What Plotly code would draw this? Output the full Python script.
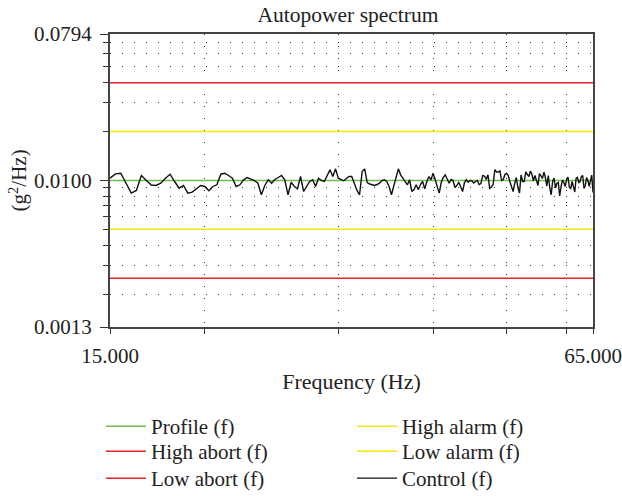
import numpy as np
import plotly.graph_objects as go

# ---------------- data ----------------
freq_min, freq_max = 15.0, 65.0
# spectral lines every 0.25 Hz (201 bins)
freq = np.linspace(freq_min, freq_max, 201)

control = [
    0.01033, 0.01099, 0.01108, 0.00958, 0.00836, 0.00869, 0.01073, 0.01000, 0.00938, 0.00932,
    0.00962, 0.01033, 0.01093, 0.00986, 0.00897, 0.00932, 0.00836, 0.00848, 0.00893, 0.00932,
    0.00919, 0.00865, 0.00919, 0.00941, 0.01093, 0.01108, 0.01073, 0.01033, 0.00919, 0.00941,
    0.01010, 0.01043, 0.01021, 0.01000, 0.00962, 0.00817, 0.00932, 0.01010, 0.00962, 0.01014,
    0.01043, 0.01073, 0.01010, 0.00817, 0.00976, 0.00919, 0.00889, 0.01058, 0.00856, 0.00919,
    0.00986, 0.01010, 0.00919, 0.01033, 0.01000, 0.00986, 0.01073, 0.01163, 0.01058, 0.01179,
    0.01033, 0.01014, 0.00996, 0.01029, 0.01058, 0.01058, 0.00945, 0.00869, 0.00817, 0.01135,
    0.01179, 0.00972, 0.00952, 0.00941, 0.00932, 0.00945, 0.00962, 0.01000, 0.01010, 0.00986,
    0.00919, 0.00817, 0.00932, 0.01073, 0.01179, 0.01084, 0.01029, 0.00986, 0.00941, 0.01010,
    0.00856, 0.00881, 0.00941, 0.00877, 0.00945, 0.00986, 0.00889, 0.00986, 0.01058, 0.01010,
    0.01108, 0.01014, 0.00906, 0.00836, 0.00972, 0.01043, 0.01084, 0.01029, 0.00962, 0.01014,
    0.01000, 0.00906, 0.00932, 0.00976, 0.00906, 0.00856, 0.00972, 0.01010, 0.00976, 0.01000,
    0.00996, 0.00965, 0.00986, 0.01000, 0.00945, 0.00958, 0.01073, 0.01065, 0.01014, 0.01084,
    0.00897, 0.00912, 0.00945, 0.01168, 0.01127, 0.01127, 0.01146, 0.01000, 0.01014, 0.01088,
    0.01108, 0.01073, 0.00986, 0.00912, 0.00856, 0.00958, 0.01043, 0.00906, 0.00836, 0.01084,
    0.00986, 0.00986, 0.01131, 0.01088, 0.01058, 0.01143, 0.01088, 0.00996, 0.01073, 0.01000,
    0.00932, 0.01104, 0.01073, 0.01029, 0.01127, 0.01043, 0.00925, 0.01073, 0.00906, 0.00817,
    0.00986, 0.01036, 0.00900, 0.00958, 0.00972, 0.00804, 0.00919, 0.01007, 0.00972, 0.00919,
    0.01014, 0.01051, 0.00906, 0.00893, 0.00986, 0.00906, 0.00850, 0.01029, 0.01043, 0.00972,
    0.00986, 0.01058, 0.01073, 0.00893, 0.00932, 0.01043, 0.01000, 0.00919, 0.01029, 0.01080,
    0.00845,
]

profile_level = 0.0100
high_abort_level = 0.0398
low_abort_level = 0.00251
high_alarm_level = 0.0200
low_alarm_level = 0.00501

x_tick_vals = [15, 20, 30, 40, 50, 60, 65]
x_tick_text = ["15.000", "", "", "", "", "", "65.000"]
y_tick_vals = [0.001259, 0.0100, 0.07943]
y_tick_text = ["0.0013", "0.0100", "0.0794"]
y_minor_vals = [0.002, 0.003, 0.004, 0.005, 0.006, 0.007, 0.008, 0.009,
                0.02, 0.03, 0.04, 0.05, 0.06, 0.07]

# ---------------- styling ----------------
FONT = "Liberation Serif"
GREEN = "#6cbf4a"
RED = "#e8232b"
YELLOW = "#f2ea00"
BLACK = "#111111"
W, H = 622, 496
ML, MR, MT, MB = 110, 29, 34, 169
plot_w = W - ML - MR

fig = go.Figure()

# legend slots: (left px, row-centre px)
col1, col2 = 101, 352
row_y = [428, 453, 480]

def hline(name, level, color, legend):
    fig.add_trace(go.Scatter(
        x=[freq_min, freq_max], y=[level, level], mode="lines", name=name,
        line=dict(color=color, width=1.5), legend=legend, hoverinfo="skip"))

hline("Profile (f)", profile_level, GREEN, "legend")
hline("High abort (f)", high_abort_level, RED, "legend2")
hline("Low abort (f)", low_abort_level, RED, "legend3")
hline("High alarm (f)", high_alarm_level, YELLOW, "legend4")
hline("Low alarm (f)", low_alarm_level, YELLOW, "legend5")
fig.add_trace(go.Scatter(x=freq, y=control, mode="lines", name="Control (f)",
                         line=dict(color=BLACK, width=1.4), legend="legend6"))

grid_dash = "1px,11px"
legend_font = dict(family=FONT, size=21, color="#222")

def legend_at(left_px, centre_px):
    return dict(orientation="v", xref="container", yref="container",
                x=left_px / W, y=1 - (centre_px - 22) / H,
                xanchor="left", yanchor="top",
                itemwidth=40, font=legend_font, bgcolor="rgba(0,0,0,0)",
                borderwidth=0, tracegroupgap=0)

fig.update_layout(
    width=W, height=H,
    margin=dict(l=ML, r=MR, t=MT, b=MB, autoexpand=False),
    paper_bgcolor="white", plot_bgcolor="white",
    font=dict(family=FONT, size=21, color="#222"),
    title=dict(text="Autopower spectrum", x=348 / W, xanchor="center",
               y=0.970, yanchor="middle", yref="container",
               font=dict(family=FONT, size=21.5, color="#222")),
    showlegend=True,
    legend=legend_at(col1, row_y[0]),
    legend2=legend_at(col1, row_y[1]),
    legend3=legend_at(col1, row_y[2]),
    legend4=legend_at(col2, row_y[0]),
    legend5=legend_at(col2, row_y[1]),
    legend6=legend_at(col2, row_y[2]),
    xaxis=dict(
        type="log", range=[np.log10(freq_min), np.log10(freq_max)],
        tickmode="array", tickvals=x_tick_vals, ticktext=x_tick_text,
        ticks="outside", ticklen=5, tickwidth=1, tickcolor="#333",
        ticklabelstandoff=4, automargin=True,
        showgrid=True, gridcolor="#333", gridwidth=1, griddash=grid_dash,
        showline=True, linecolor="#444", linewidth=2, mirror=True,
        zeroline=False,
        title=dict(text="Frequency (Hz)", standoff=6,
                   font=dict(family=FONT, size=22, color="#222")),
    ),
    yaxis=dict(
        type="log", range=[-2.9, -1.1],
        tickmode="array", tickvals=y_tick_vals, ticktext=y_tick_text,
        ticks="outside", ticklen=8, tickwidth=1, tickcolor="#333",
        ticklabelstandoff=4, automargin=False,
        showgrid=True, gridcolor="#333", gridwidth=1, griddash=grid_dash,
        minor=dict(tickmode="array", tickvals=y_minor_vals, ticks="outside",
                   ticklen=5, tickwidth=1, tickcolor="#333",
                   showgrid=True, gridcolor="#333", gridwidth=1, griddash=grid_dash),
        showline=True, linecolor="#444", linewidth=2, mirror=True,
        zeroline=False,
    ),
    annotations=[dict(
        text="(g<sup>2</sup>/Hz)", textangle=-90, showarrow=False,
        xref="paper", yref="paper", x=(18 - ML) / plot_w, y=0.5,
        xanchor="center", yanchor="middle",
        font=dict(family=FONT, size=21, color="#222"))],
)

fig.write_html("out.html")
